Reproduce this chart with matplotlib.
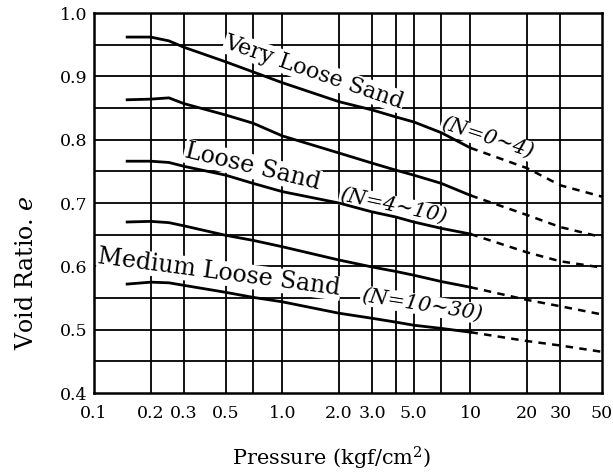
import matplotlib
matplotlib.use("Agg")
import matplotlib.pyplot as plt

plt.rcParams['font.family'] = ['DejaVu Serif']
plt.rcParams['mathtext.fontset'] = 'dejavuserif'

# pressure points (kgf/cm2) for the measured part and the extrapolated part
pressure = [0.15, 0.2, 0.25, 0.3, 0.5, 0.7, 1.0, 2.0, 3.0, 4.0, 5.0, 7.0, 10.0]
pressure_ext = [10.0, 20.0, 30.0, 50.0]

# void ratio curves, top to bottom
e_curve1 = [0.962, 0.962, 0.956, 0.946, 0.923, 0.907, 0.890, 0.860, 0.847, 0.836, 0.828, 0.811, 0.787]
e_curve1_ext = [0.787, 0.755, 0.728, 0.710]
e_curve2 = [0.863, 0.864, 0.866, 0.857, 0.839, 0.826, 0.806, 0.779, 0.763, 0.752, 0.744, 0.731, 0.712]
e_curve2_ext = [0.712, 0.681, 0.662, 0.646]
e_curve3 = [0.766, 0.766, 0.764, 0.758, 0.744, 0.731, 0.718, 0.700, 0.686, 0.678, 0.670, 0.660, 0.651]
e_curve3_ext = [0.651, 0.622, 0.608, 0.598]
e_curve4 = [0.670, 0.671, 0.669, 0.664, 0.649, 0.641, 0.631, 0.610, 0.599, 0.592, 0.586, 0.576, 0.567]
e_curve4_ext = [0.567, 0.547, 0.537, 0.524]
e_curve5 = [0.572, 0.575, 0.574, 0.570, 0.559, 0.551, 0.544, 0.526, 0.518, 0.512, 0.507, 0.502, 0.496]
e_curve5_ext = [0.496, 0.482, 0.475, 0.465]

curves = [(e_curve1, e_curve1_ext), (e_curve2, e_curve2_ext), (e_curve3, e_curve3_ext),
          (e_curve4, e_curve4_ext), (e_curve5, e_curve5_ext)]

x_ticks = [0.1, 0.2, 0.3, 0.5, 1.0, 2.0, 3.0, 5.0, 10, 20, 30, 50]
x_ticklabels = ['0.1', '0.2', '0.3', '0.5', '1.0', '2.0', '3.0', '5.0', '10', '20', '30', '50']
y_ticks = [0.4, 0.5, 0.6, 0.7, 0.8, 0.9, 1.0]
y_ticklabels = ['0.4', '0.5', '0.6', '0.7', '0.8', '0.9', '1.0']
x_grid = [0.2, 0.3, 0.5, 0.7, 1.0, 2.0, 3.0, 4.0, 5.0, 7.0, 10, 20, 30]
y_grid = [0.45, 0.5, 0.55, 0.6, 0.65, 0.7, 0.75, 0.8, 0.85, 0.9, 0.95]

fig = plt.figure(figsize=(6.13, 4.72), dpi=100)
ax = fig.add_axes([94 / 613, 79 / 472, 508 / 613, 380 / 472])
ax.set_xscale('log')
ax.set_xlim(0.1, 50)
ax.set_ylim(0.4, 1.0)

for xg in x_grid:
    ax.axvline(xg, color='black', lw=1.3, zorder=1)
for yg in y_grid:
    ax.axhline(yg, color='black', lw=1.3, zorder=1)

for solid, ext in curves:
    ax.plot(pressure, solid, color='black', lw=2.0, zorder=3)
    ax.plot(pressure_ext, ext, color='black', lw=1.8, ls=(0, (3, 2.5)), zorder=3)

# labels run downhill along the curves, grid erased behind them
label_box = dict(facecolor='white', edgecolor='none', pad=0.5)
ax.text(0.485, 0.946, 'Very Loose Sand', fontsize=16, rotation=-19, rotation_mode='anchor',
        ha='left', va='baseline', bbox=label_box, zorder=2)
ax.text(6.9, 0.818, '(N=0~4)', fontsize=15, fontstyle='italic', rotation=-18,
        rotation_mode='anchor', ha='left', va='baseline', bbox=label_box, zorder=2)
ax.text(0.299, 0.773, 'Loose Sand', fontsize=17, rotation=-13.5, rotation_mode='anchor',
        ha='left', va='baseline', bbox=label_box, zorder=2)
ax.text(2.0, 0.705, '(N=4~10)', fontsize=15, fontstyle='italic', rotation=-12,
        rotation_mode='anchor', ha='left', va='baseline', bbox=label_box, zorder=2)
ax.text(0.104, 0.605, 'Medium Loose Sand', fontsize=17, rotation=-7.5, rotation_mode='anchor',
        ha='left', va='baseline', bbox=label_box, zorder=2)
ax.text(2.6, 0.546, '(N=10~30)', fontsize=15, fontstyle='italic', rotation=-9,
        rotation_mode='anchor', ha='left', va='baseline', bbox=label_box, zorder=2)

ax.set_xticks(x_ticks)
ax.set_xticklabels(x_ticklabels)
ax.xaxis.set_minor_locator(matplotlib.ticker.NullLocator())
ax.set_yticks(y_ticks)
ax.set_yticklabels(y_ticklabels)
ax.tick_params(axis='both', length=0, labelsize=12.5)
ax.tick_params(axis='x', pad=9)
ax.tick_params(axis='y', pad=5)

for sp in ax.spines.values():
    sp.set_linewidth(1.8)

ax.set_xlabel('Pressure (kgf/cm$^2$)', fontsize=15)
ax.xaxis.set_label_coords(0.467, -0.135)
ax.set_ylabel('Void Ratio. $e$', fontsize=17)
ax.yaxis.set_label_coords(-0.11, 0.318)

fig.savefig('out.png', dpi=100)
